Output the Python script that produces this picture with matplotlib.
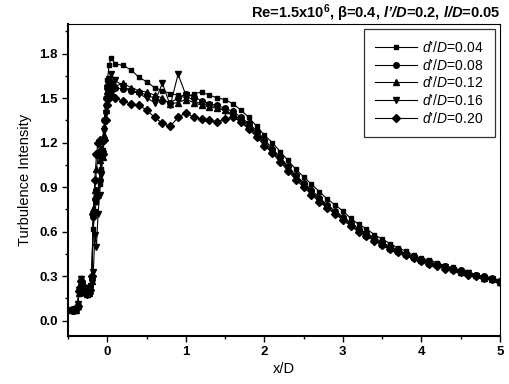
import matplotlib
matplotlib.use("Agg")
import matplotlib.pyplot as plt
from matplotlib.ticker import MultipleLocator

plt.rcParams['font.family'] = ['Liberation Sans', 'DejaVu Sans']
plt.rcParams['mathtext.fontset'] = 'custom'
plt.rcParams['mathtext.it'] = 'Liberation Sans:italic'
plt.rcParams['mathtext.bf'] = 'Liberation Sans:italic:bold'
plt.rcParams['mathtext.sf'] = 'Liberation Sans:bold'
plt.rcParams['mathtext.rm'] = 'Liberation Sans'

# stations x/D (same for all five runs)
x = [-0.45, -0.42, -0.40, -0.38, -0.36, -0.34, -0.32, -0.30, -0.28, -0.26,
     -0.24, -0.22, -0.20, -0.18, -0.16, -0.14, -0.12, -0.10, -0.08, -0.06,
     -0.04, -0.02, 0.00, 0.02, 0.05,
     0.1, 0.2, 0.3, 0.4, 0.5, 0.6, 0.7, 0.8, 0.9, 1.0,
     1.1, 1.2, 1.3, 1.4, 1.5, 1.6, 1.7, 1.8, 1.9, 2.0,
     2.1, 2.2, 2.3, 2.4, 2.5, 2.6, 2.7, 2.8, 2.9, 3.0,
     3.1, 3.2, 3.3, 3.4, 3.5, 3.6, 3.7, 3.8, 3.9, 4.0,
     4.1, 4.2, 4.3, 4.4, 4.5, 4.6, 4.7, 4.8, 4.9, 5.0]

ti_004 = [0.07, 0.07, 0.08, 0.11, 0.22, 0.29, 0.26, 0.22, 0.20, 0.19,
          0.21, 0.24, 0.30, 0.62, 0.74, 0.80, 0.85, 0.92, 1.02, 1.15,
          1.30, 1.45, 1.62, 1.72, 1.77,
          1.73, 1.72, 1.69, 1.64, 1.61, 1.57, 1.55, 1.53, 1.52, 1.50,
          1.53, 1.54, 1.52, 1.50, 1.49, 1.46, 1.42, 1.37, 1.31, 1.25,
          1.20, 1.14, 1.08, 1.02, 0.97, 0.92, 0.87, 0.82, 0.78, 0.74,
          0.69, 0.65, 0.62, 0.58, 0.55, 0.52, 0.49, 0.47, 0.44, 0.42,
          0.41, 0.39, 0.37, 0.36, 0.34, 0.33, 0.31, 0.30, 0.29, 0.27]

ti_008 = [0.07, 0.07, 0.08, 0.10, 0.20, 0.27, 0.25, 0.21, 0.19, 0.18,
          0.20, 0.23, 0.28, 0.70, 0.82, 0.88, 0.84, 0.95, 1.10, 1.22,
          1.35, 1.50, 1.58, 1.62, 1.60,
          1.57, 1.56, 1.55, 1.54, 1.52, 1.50, 1.48, 1.47, 1.50, 1.53,
          1.51, 1.48, 1.46, 1.45, 1.43, 1.41, 1.37, 1.33, 1.28, 1.22,
          1.16, 1.10, 1.04, 0.98, 0.93, 0.88, 0.83, 0.78, 0.74, 0.70,
          0.66, 0.62, 0.59, 0.56, 0.53, 0.50, 0.48, 0.45, 0.43, 0.41,
          0.40, 0.38, 0.37, 0.35, 0.34, 0.32, 0.31, 0.30, 0.28, 0.27]

ti_012 = [0.07, 0.07, 0.075, 0.10, 0.19, 0.26, 0.24, 0.21, 0.20, 0.18,
          0.19, 0.22, 0.27, 0.75, 0.88, 1.02, 1.12, 1.08, 1.02, 1.10,
          1.25, 1.42, 1.55, 1.60, 1.56,
          1.58, 1.60, 1.57, 1.55, 1.54, 1.52, 1.50, 1.46, 1.47, 1.49,
          1.47, 1.45, 1.44, 1.43, 1.42, 1.39, 1.35, 1.31, 1.26, 1.20,
          1.15, 1.09, 1.03, 0.97, 0.92, 0.87, 0.82, 0.77, 0.73, 0.69,
          0.65, 0.61, 0.58, 0.55, 0.52, 0.49, 0.47, 0.45, 0.43, 0.41,
          0.39, 0.38, 0.36, 0.35, 0.33, 0.32, 0.31, 0.29, 0.28, 0.26]

ti_016 = [0.07, 0.07, 0.08, 0.11, 0.21, 0.28, 0.25, 0.22, 0.20, 0.19,
          0.20, 0.22, 0.26, 0.33, 0.58, 0.50, 0.72, 0.85, 0.98, 1.12,
          1.28, 1.40, 1.55, 1.63, 1.66,
          1.62, 1.58, 1.55, 1.53, 1.50, 1.47, 1.60, 1.45, 1.66, 1.52,
          1.48, 1.46, 1.45, 1.44, 1.41, 1.38, 1.34, 1.30, 1.25, 1.19,
          1.14, 1.08, 1.02, 0.96, 0.91, 0.86, 0.81, 0.76, 0.72, 0.68,
          0.64, 0.60, 0.57, 0.54, 0.51, 0.49, 0.46, 0.44, 0.42, 0.40,
          0.39, 0.37, 0.36, 0.34, 0.33, 0.32, 0.30, 0.29, 0.28, 0.26]

ti_020 = [0.07, 0.07, 0.08, 0.10, 0.20, 0.27, 0.24, 0.21, 0.19, 0.18,
          0.19, 0.21, 0.30, 0.72, 0.95, 1.12, 1.20, 1.22, 1.15, 1.12,
          1.22, 1.35, 1.45, 1.50, 1.52,
          1.50, 1.48, 1.46, 1.45, 1.42, 1.37, 1.33, 1.31, 1.37, 1.40,
          1.37, 1.36, 1.35, 1.34, 1.36, 1.37, 1.34, 1.29, 1.24, 1.18,
          1.13, 1.07, 1.01, 0.95, 0.90, 0.85, 0.80, 0.76, 0.72, 0.68,
          0.64, 0.60, 0.57, 0.54, 0.51, 0.48, 0.46, 0.44, 0.42, 0.40,
          0.38, 0.37, 0.35, 0.34, 0.33, 0.31, 0.30, 0.29, 0.28, 0.26]

labels = ["0.04", "0.08", "0.12", "0.16", "0.20"]
markers = ['s', 'o', '^', 'v', 'D']
series = [ti_004, ti_008, ti_012, ti_016, ti_020]

fig = plt.figure(figsize=(5.09, 3.84), dpi=100)
ax = fig.add_axes([0.134, 0.126, 0.848, 0.812])

for y, lab, m in zip(series, labels, markers):
    ms = {'s': 3.4, 'o': 4.0, '^': 4.2, 'v': 4.2, 'D': 3.6}[m]
    ax.plot(x, y, color='black', lw=0.8, marker=m, ms=ms,
            label=r"$\mathit{d’/D}$=" + lab)

ax.set_xlim(-0.5, 5.0)
ax.set_ylim(-0.1, 2.0)
ax.xaxis.set_major_locator(MultipleLocator(1))
ax.xaxis.set_minor_locator(MultipleLocator(0.5))
ax.set_yticks([0.0, 0.3, 0.6, 0.9, 1.2, 1.5, 1.8])
ax.yaxis.set_minor_locator(MultipleLocator(0.15))
ax.tick_params(which='both', direction='out', width=1.0)
ax.tick_params(which='major', length=4, labelsize=9.5)
ax.tick_params(which='minor', length=2.5)
for t in ax.get_xticklabels() + ax.get_yticklabels():
    t.set_fontweight('bold')

ax.spines['left'].set_linewidth(1.5)
ax.spines['bottom'].set_linewidth(1.5)
ax.spines['top'].set_linewidth(0.8)
ax.spines['right'].set_linewidth(0.8)

ax.set_xlabel("x/D", fontsize=10.5, labelpad=3)
ax.set_ylabel("Turbulence Intensity", fontsize=10.5, labelpad=5)
ax.set_title(r"Re=1.5x10$^{\mathsf{6}}$, β=0.4, $\mathbf{l’/D}$=0.2, $\mathbf{l/D}$=0.05",
             loc='right', fontsize=10.5, fontweight='bold', pad=4)

leg = ax.legend(loc='upper right', fontsize=10, frameon=True, fancybox=False,
                edgecolor='black', handlelength=3.0, borderaxespad=0.35,
                borderpad=0.8, labelspacing=0.2, handletextpad=0.4)
leg.get_frame().set_linewidth(0.9)

fig.savefig("out.png", dpi=100)
